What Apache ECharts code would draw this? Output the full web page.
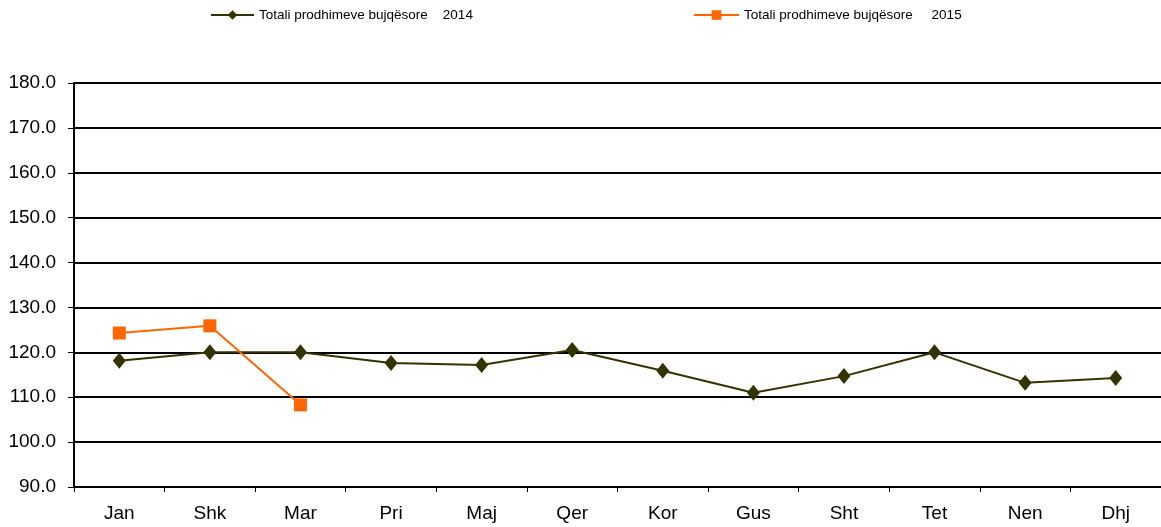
<!DOCTYPE html>
<html>
<head>
<meta charset="utf-8">
<script src="https://cdn.jsdelivr.net/npm/echarts@6/dist/echarts.min.js"></script>
<style>
html,body{margin:0;padding:0;background:#fff;}
#chart{width:1161px;height:527px;}
</style>
</head>
<body>
<div id="chart"></div>
<script>
// muajt
var months = ['Jan', 'Shk', 'Mar', 'Pri', 'Maj', 'Qer', 'Kor', 'Gus', 'Sht', 'Tet', 'Nen', 'Dhj'];
var name2014 = 'Totali prodhimeve bujqësore    2014';
var name2015 = 'Totali prodhimeve bujqësore     2015';
var vals2014 = [118.1, 120.0, 120.0, 117.6, 117.2, 120.5, 115.9, 111.0, 114.7, 120.0, 113.2, 114.3];
var vals2015 = [124.3, 125.9, 108.3];

var font = 'Liberation Sans, Arial, sans-serif';

var option = {
    backgroundColor: '#fff',
    animation: false,
    legend: [
        {
            data: [name2014],
            left: 205, top: 3,
            itemWidth: 43, itemHeight: 12,
            textStyle: {fontFamily: font, fontSize: 13.5, color: '#000'}
        },
        {
            data: [name2015],
            left: 688, top: 3,
            itemWidth: 45, itemHeight: 12,
            textStyle: {fontFamily: font, fontSize: 13.5, color: '#000'}
        }
    ],
    grid: {left: 74, width: 1089, top: 83, bottom: 40},
    xAxis: {
        type: 'category',
        data: months,
        boundaryGap: true,
        axisLine: {lineStyle: {color: '#000', width: 2}},
        axisTick: {show: true, length: 5, lineStyle: {color: '#000', width: 1}},
        axisLabel: {fontFamily: font, fontSize: 19, color: '#000', margin: 17}
    },
    yAxis: {
        type: 'value',
        min: 90, max: 180, interval: 10,
        axisLine: {show: true, lineStyle: {color: '#000', width: 2}},
        axisTick: {show: true, length: 6, lineStyle: {color: '#000', width: 1}},
        splitLine: {lineStyle: {color: '#000', width: 2}},
        axisLabel: {
            fontFamily: font, fontSize: 19, color: '#000', margin: 18,
            formatter: function (v) { return v.toFixed(1); }
        }
    },
    series: [
        {
            name: name2014,
            type: 'line',
            data: vals2014,
            symbol: 'diamond',
            symbolSize: [13, 16],
            itemStyle: {color: '#333300'},
            lineStyle: {color: '#333300', width: 2}
        },
        {
            name: name2015,
            type: 'line',
            data: vals2015,
            symbol: 'rect',
            symbolSize: 13,
            itemStyle: {color: '#ff6600'},
            lineStyle: {color: '#ff6600', width: 2}
        }
    ]
};

var myChart = echarts.init(document.getElementById('chart'));
myChart.setOption(option);
</script>
</body>
</html>
